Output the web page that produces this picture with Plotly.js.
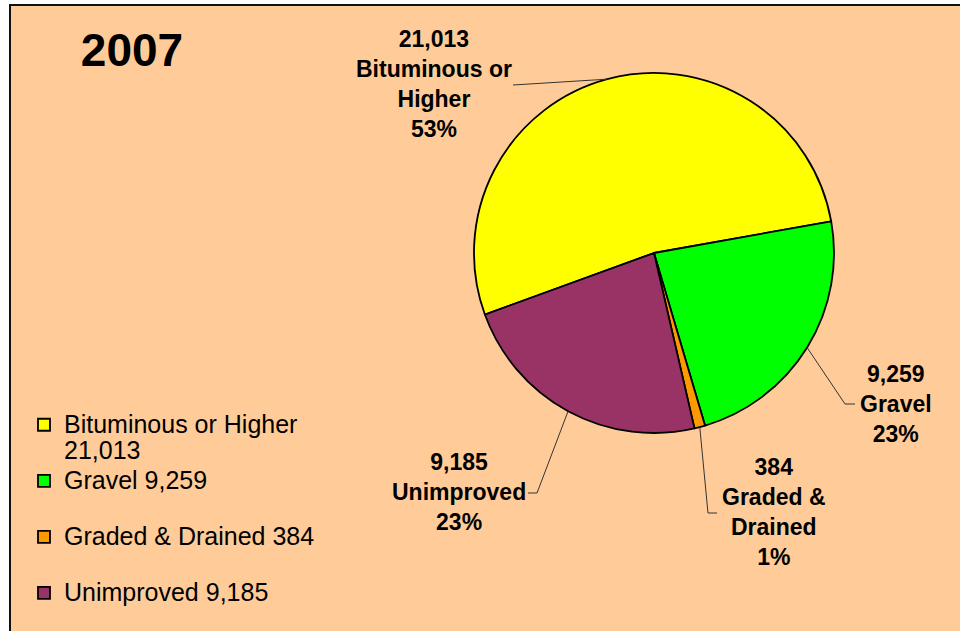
<!DOCTYPE html>
<html><head><meta charset="utf-8">
<script src="https://cdn.plot.ly/plotly-3.0.1.min.js"></script>
<style>html,body{margin:0;padding:0;background:#fff}#chart{width:960px;height:631px}</style>
</head><body><div id="chart"></div>
<script>
// ---- data ----
const year = '2007';
const categories = ['Bituminous or Higher', 'Gravel', 'Graded & Drained', 'Unimproved'];
const values = [21013, 9259, 384, 9185];
const labelLines = ['Bituminous or<br>Higher', 'Gravel', 'Graded &<br>Drained', 'Unimproved'];
const colors = ['#FFFF00', '#00FF00', '#FF9900', '#993366'];

// ---- layout constants (pixels) ----
const W = 960, H = 631;
const cx = 654, cy = 253, R = 180;
const rotation = 250;
const labelPos = [[434, 84], [896, 404], [774, 512], [459, 492]];
const leaderEnds = [[[513, 85]], [[845, 404], [855, 404]], [[708, 513], [717, 513]], [[537, 493], [528, 493]]];

const FONT = 'Arial, "Liberation Sans", sans-serif';
const px = x => x / W, py = y => 1 - y / H;
const fmt = v => v.toLocaleString('en-US');
const total = values.reduce((a, b) => a + b, 0);

const legendLabels = categories.map((c, i) =>
  '<span style="font-size:25px">' + (i === 0 ? c + '<br>' + fmt(values[i]) : c + ' ' + fmt(values[i]) + '<br>&nbsp;') + '</span>');

const trace = {
  type: 'pie',
  labels: legendLabels,
  values: values,
  sort: false,
  direction: 'clockwise',
  rotation: rotation,
  textinfo: 'none',
  hoverinfo: 'none',
  marker: { colors: colors, line: { color: '#000', width: 1.8 } },
  domain: { x: [px(cx - R), px(cx + R)], y: [py(cy + R), py(cy - R)] }
};

const annotations = [];
const shapes = [{
  type: 'rect', xref: 'paper', yref: 'paper', layer: 'below',
  x0: px(10), x1: 1.05, y0: -0.05, y1: py(5),
  fillcolor: '#FFCC99', line: { color: '#111', width: 2 }
}];

let cum = 0;
values.forEach((v, i) => {
  const ang = (rotation + (cum + v / 2) / total * 360) * Math.PI / 180;
  cum += v;
  const ax = cx + R * Math.sin(ang), ay = cy - R * Math.cos(ang);
  const pct = Math.round(v / total * 100);
  annotations.push({
    xref: 'paper', yref: 'paper', x: px(labelPos[i][0]), y: py(labelPos[i][1]),
    xanchor: 'center', yanchor: 'middle', showarrow: false, align: 'center',
    text: '<b>' + fmt(v) + '<br>' + labelLines[i] + '<br>' + pct + '%</b>',
    font: { family: FONT, size: 23, color: '#000' }
  });
  let path = 'M ' + px(ax) + ' ' + py(ay);
  leaderEnds[i].forEach(p => { path += ' L ' + px(p[0]) + ' ' + py(p[1]); });
  shapes.push({ type: 'path', xref: 'paper', yref: 'paper', path: path, line: { color: '#333', width: 1 } });
});

const layout = {
  width: W, height: H,
  margin: { l: 0, r: 0, t: 0, b: 0, autoexpand: false },
  paper_bgcolor: '#FFFFFF',
  plot_bgcolor: 'rgba(0,0,0,0)',
  title: { text: '<b>' + year + '</b>', font: { family: FONT, size: 46, color: '#000' },
           x: px(132), xanchor: 'center', xref: 'paper', y: py(50), yanchor: 'middle', yref: 'paper' },
  showlegend: true,
  legend: { x: px(24), xanchor: 'left', y: py(405), yanchor: 'top', valign: 'top',
            bgcolor: 'rgba(0,0,0,0)', font: { family: FONT, size: 20.4, color: '#000' } },
  annotations: annotations,
  shapes: shapes
};

Plotly.newPlot('chart', [trace], layout, { displayModeBar: false, staticPlot: true });
</script>
</body></html>
